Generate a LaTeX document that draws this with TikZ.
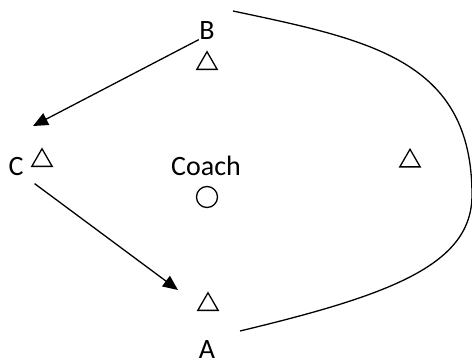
\documentclass[tikz,border=0pt]{standalone}
\usepackage{fontspec}
\setmainfont{Carlito}
\usetikzlibrary{shapes.geometric,arrows.meta}

\begin{document}
\begin{tikzpicture}[x=1pt,y=-1pt,line width=1.3pt,
  cone/.style={draw,regular polygon,regular polygon sides=3,minimum size=23.5pt,inner sep=0pt},
  lbl/.style={anchor=base,inner sep=0pt,font=\fontsize{28}{33}\selectfont},
  >={Triangle[length=15pt,width=13pt]}]
\useasboundingbox (0,0) rectangle (472,362);

% labels
\node[lbl] (B) at (207,39) {B};
\node[lbl] (C) at (16,175) {C};
\node[lbl] (coach) at (206,175) {Coach};
\node[lbl] (A) at (207,358) {A};

% cones and coach
\node[cone] (coneB) at (207,63.5) {};
\node[cone] (coneC) at (42,160.5) {};
\node[cone] (coneR) at (410,161) {};
\node[cone] (coneA) at (208,304.5) {};
\node[draw,circle,minimum size=21pt,inner sep=0pt] (spot) at (207,197) {};

\coordinate (endC) at (33,126);
\coordinate (endA) at (178,290);
\coordinate (runTop) at (233,11);
\coordinate (runBot) at (240,331);

\draw[->] (B.south west) -- (endC);
\draw[->,shorten <=13pt] (C.south east) -- (endA);

\draw (runTop) .. controls (370,40) and (472,60) .. (472,195)
  .. controls (472,265) and (390,295) .. (runBot);

\end{tikzpicture}
\end{document}
